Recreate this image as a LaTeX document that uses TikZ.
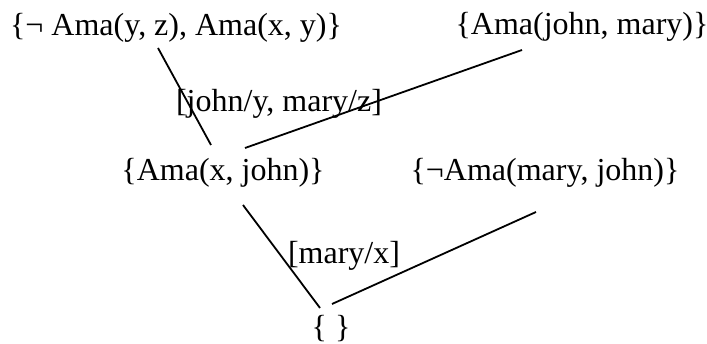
\documentclass[tikz,border=0pt]{standalone}
\usepackage{fontspec}
\setmainfont{Liberation Serif}
\usetikzlibrary{calc}
\begin{document}
\begin{tikzpicture}[x=1pt,y=-1pt,
  clause/.style={inner sep=0pt,font=\fontsize{32}{38}\selectfont},
  edge/.style={line width=1.8pt}]
\useasboundingbox (0,0) rectangle (707,344);
\node[clause] (c1) at (176,28) {\{¬ Ama(y, z), Ama(x, y)\}};
\node[clause] (c2) at (582,27) {\{Ama(john, mary)\}};
\node[clause] (l1) at (279,104) {[john/y, mary/z]};
\node[clause] (c3) at (223,173) {\{Ama(x, john)\}};
\node[clause] (c4) at (545,173) {\{¬Ama(mary, john)\}};
\node[clause] (l2) at (344,256) {[mary/x]};
\node[clause] (c5) at (331,329) {\{ \}};
\draw[edge] ($(c1.center)+(-18,20)$) -- ($(c3.center)+(-12,-28)$);
\draw[edge] ($(c2.center)+(-60,23)$) -- ($(c3.center)+(22,-25)$);
\draw[edge] ($(c3.center)+(20,32)$) -- ($(c5.center)+(-11,-21)$);
\draw[edge] ($(c4.center)+(-9,39)$) -- ($(c5.center)+(1,-25)$);
\end{tikzpicture}
\end{document}
